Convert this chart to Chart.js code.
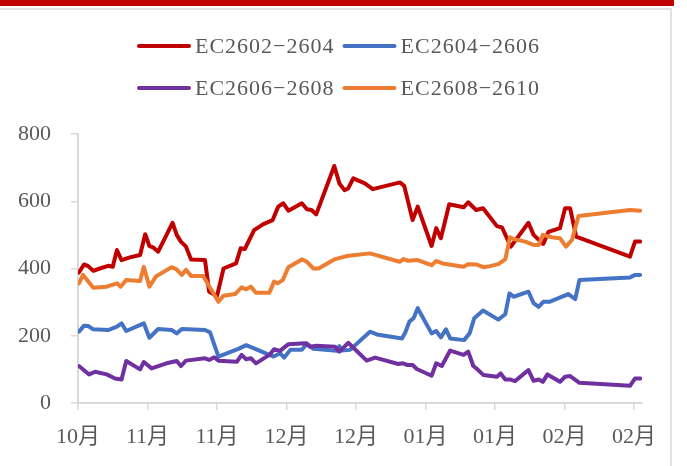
<!DOCTYPE html>
<html>
<head>
<meta charset="utf-8">
<script src="https://cdn.jsdelivr.net/npm/chart.js@4"></script>
<style>
  body { margin: 0; background: #fff; }
  #wrap { width: 687px; height: 466px; }
</style>
</head>
<body>
<div id="wrap"><canvas id="myChart" width="687" height="466"></canvas></div>
<script>
// x values are day offsets from the first tick (ticks every 15 days)
const tickDays = [0, 15, 30, 45, 60, 75, 90, 105, 120];
const tickLabels = ['10月', '11月', '11月', '12月', '12月', '01月', '01月', '02月', '02月'];
const seriesNames = ['EC2602−2604', 'EC2604−2606', 'EC2606−2608', 'EC2608−2610'];
const seriesColors = ['#C00000', '#4472C4', '#7030A0', '#ED7D31'];

const ec0204Days = [0.2,1.3,2.2,3.3,4.7,6.5,7.5,8.4,9.4,11.2,13.4,14.5,15.4,16.3,17.3,20.4,21.3,22.2,23.3,24.4,27.4,28.3,30.0,31.4,34.1,35.1,36.0,38.0,40.0,42.0,43.2,44.3,45.4,48.3,49.4,50.4,51.4,55.3,56.4,57.5,58.3,59.4,61.9,63.6,69.5,70.4,72.2,73.3,76.3,77.3,78.3,80.1,83.2,84.2,85.9,87.4,90.4,91.5,93.4,97.2,98.3,100.4,101.5,104.0,105.1,106.2,107.5,119.1,120.2,121.3];
const ec0204Vals = [388,412,407,393,400,408,405,455,425,433,440,502,467,462,450,536,500,480,465,427,425,331,318,400,415,460,458,514,532,544,584,594,572,594,576,574,561,705,653,633,638,668,653,636,656,645,544,584,467,520,490,591,582,597,574,579,526,522,465,536,500,473,509,520,579,579,495,435,480,480];

const ec0406Days = [0.2,1.3,2.2,3.3,6.5,8.4,9.4,10.4,14.2,15.4,17.3,20.2,21.3,22.4,27.4,28.5,30.3,34.6,36.3,42.2,43.6,44.5,45.8,48.3,49.4,50.8,55.8,56.4,56.9,58.7,63.0,64.5,69.9,70.6,71.5,72.4,73.3,76.3,77.3,78.3,79.4,80.3,83.3,84.5,85.5,87.4,90.7,92.2,93.1,94.0,97.2,98.3,99.4,100.4,101.7,105.8,107.3,108.2,119.1,120.2,121.3];
const ec0406Vals = [212,230,229,219,217,227,237,214,237,194,220,217,207,220,217,210,138,161,172,138,148,135,158,158,177,161,155,169,156,158,212,204,192,209,242,252,282,207,214,195,219,192,187,207,252,275,248,264,326,316,331,297,286,301,301,324,309,366,373,381,381];

const ec0608Days = [0.2,2.4,3.7,6.2,8.0,9.4,10.4,13.4,14.2,15.9,19.1,21.3,22.2,23.3,27.4,28.3,29.4,30.3,34.3,35.3,36.3,37.3,38.4,41.3,42.3,43.6,45.4,49.0,50.1,51.4,55.5,56.4,58.3,62.3,64.1,69.1,70.1,71.1,72.2,73.1,76.3,77.3,78.5,80.3,83.2,84.2,85.3,86.1,87.5,90.4,91.2,92.2,93.2,94.3,97.2,98.3,99.4,100.3,101.3,104.0,105.1,106.2,108.2,119.1,120.2,121.3];
const ec0608Vals = [110,85,93,85,73,70,125,100,122,103,118,125,110,126,133,128,136,126,123,143,130,133,118,143,160,155,175,178,167,170,167,153,179,126,135,116,118,113,113,101,81,118,110,156,143,153,110,101,83,78,88,70,70,65,98,66,70,63,85,63,78,80,60,51,73,73];

const ec0810Days = [0.2,1.1,3.3,6.2,8.4,9.2,10.4,13.4,14.2,15.4,16.8,20.2,21.2,22.4,23.3,24.4,27.0,30.3,31.4,33.9,35.3,36.3,37.3,38.4,41.3,42.3,43.1,44.2,45.4,48.3,49.4,50.8,51.9,55.3,58.0,63.0,69.4,70.2,71.3,73.3,76.3,77.3,78.7,83.2,84.2,85.9,87.5,88.9,90.7,92.2,93.2,94.1,96.5,98.3,99.4,100.3,102.2,104.0,105.3,106.6,108.0,119.1,121.3];
const ec0810Vals = [356,381,343,346,356,346,366,363,405,346,376,404,398,381,396,378,378,301,319,324,344,338,346,328,328,361,356,366,404,427,420,400,400,427,437,445,420,428,423,425,410,422,415,405,413,412,404,407,413,427,493,487,480,470,470,500,493,490,465,485,556,574,572];

const yTicks = [0, 200, 400, 600, 800];

const allDays = [ec0204Days, ec0406Days, ec0608Days, ec0810Days];
const allVals = [ec0204Vals, ec0406Vals, ec0608Vals, ec0810Vals];

const fontFamily = '"Liberation Serif", "Noto Sans CJK SC", serif';
const textColor = '#595959';
const axisColor = '#d9d9d9';

const datasets = seriesNames.map((name, i) => ({
  label: name,
  data: allDays[i].map((d, j) => ({ x: d, y: allVals[i][j] })),
  borderColor: seriesColors[i],
  backgroundColor: seriesColors[i],
  borderWidth: 4,
  pointRadius: 0,
  tension: 0,
  borderJoinStyle: 'round',
  borderCapStyle: 'round',
  order: seriesNames.length - i  // later series drawn on top, like Excel
}));

// frame: red bar on top and thin gray border
const framePlugin = {
  id: 'frame',
  beforeDraw(chart) {
    const ctx = chart.ctx;
    ctx.save();
    ctx.fillStyle = '#fff';
    ctx.fillRect(0, 0, chart.width, chart.height);
    ctx.fillStyle = '#C00000';
    ctx.fillRect(0, 0, 674, 6);
    ctx.strokeStyle = '#d9d9d9';
    ctx.lineWidth = 1.5;
    ctx.beginPath();
    ctx.moveTo(0, 9);
    ctx.lineTo(671, 9);
    ctx.lineTo(671, chart.height);
    ctx.stroke();
    ctx.restore();
  }
};

// two-by-two legend, like the Excel one
const legendPlugin = {
  id: 'gridLegend',
  afterDraw(chart) {
    const ctx = chart.ctx;
    const items = chart.data.datasets;
    ctx.save();
    ctx.font = '22px ' + fontFamily;
    ctx.letterSpacing = '1px';
    const textW = Math.max(...items.map(d => ctx.measureText(d.label).width));
    const colW = 58 + textW + 8;
    items.forEach((d, i) => {
      const x = 137 + (i % 2) * colW;
      const y = 46 + Math.floor(i / 2) * 42;
      ctx.strokeStyle = d.borderColor;
      ctx.lineWidth = 4;
      ctx.lineCap = 'round';
      ctx.beginPath();
      ctx.moveTo(x + 2, y);
      ctx.lineTo(x + 52, y);
      ctx.stroke();
      ctx.fillStyle = textColor;
      ctx.textBaseline = 'middle';
      ctx.fillText(d.label, x + 58, y + 1);
    });
    ctx.restore();
  }
};

const ctx = document.getElementById('myChart');
new Chart(ctx, {
  type: 'line',
  data: { datasets: datasets },
  plugins: [framePlugin, legendPlugin],
  options: {
    responsive: false,
    animation: false,
    layout: { padding: { left: 0, top: 134, right: 45, bottom: 0 } },
    plugins: {
      legend: { display: false },
      tooltip: { enabled: false }
    },
    scales: {
      x: {
        type: 'linear',
        min: 0,
        max: 121.7,
        afterBuildTicks: (s) => { s.ticks = tickDays.map(v => ({ value: v })); },
        afterFit: (s) => { s.height = 63; },
        ticks: {
          autoSkip: false,
          maxRotation: 0,
          padding: 14,
          color: textColor,
          font: { family: fontFamily, size: 22 },
          callback: (v) => tickLabels[tickDays.indexOf(v)]
        },
        grid: { drawOnChartArea: false, drawTicks: true, tickLength: 7, color: axisColor, lineWidth: 1.5 },
        border: { display: true, color: axisColor, width: 2 }
      },
      y: {
        min: 0,
        max: 800,
        afterBuildTicks: (s) => { s.ticks = yTicks.map(v => ({ value: v })); },
        afterFit: (s) => { s.width = 78; },
        ticks: {
          padding: 20,
          color: textColor,
          font: { family: fontFamily, size: 22 }
        },
        grid: { drawOnChartArea: false, drawTicks: true, tickLength: 7, color: axisColor, lineWidth: 1.5 },
        border: { display: true, color: axisColor, width: 2 }
      }
    }
  }
});
</script>
</body>
</html>
